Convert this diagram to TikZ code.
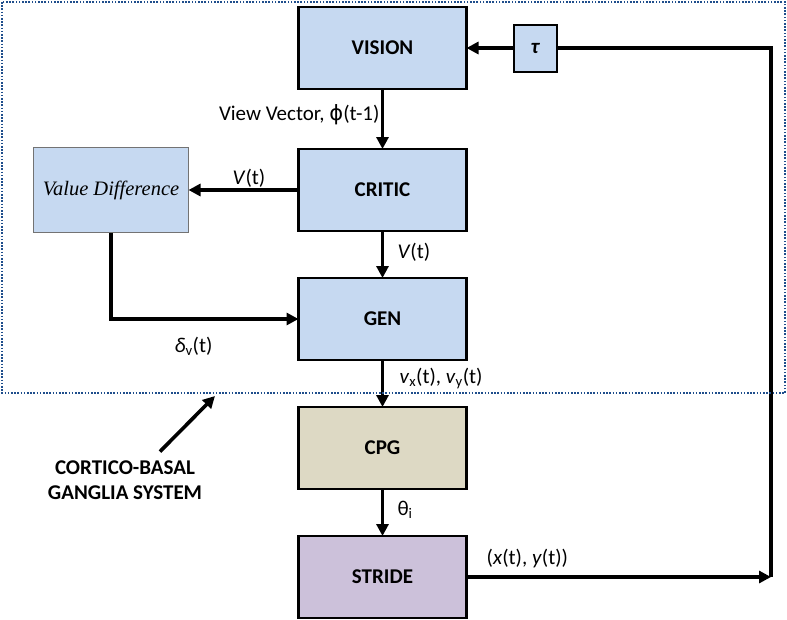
\documentclass[tikz,border=0pt]{standalone}
\usepackage{fontspec}
\setmainfont{Carlito}
\newfontfamily\valuefont{Liberation Serif}
\newfontfamily\symfont{DejaVu Sans}
\usetikzlibrary{positioning, arrows.meta}

\definecolor{cortexblue}{HTML}{C6D9F1}
\definecolor{cpgtan}{HTML}{DDD9C4}
\definecolor{stridelilac}{HTML}{CCC1DA}
\definecolor{framenavy}{HTML}{1F4E8C}

\begin{document}
\begin{tikzpicture}[
    x=1pt, y=-1pt,
    node distance=47pt and 110pt,
    every node/.style={outer sep=0pt, font=\fontsize{21}{25}\selectfont},
    block/.style={draw=black, line width=2.6pt, minimum width=168pt, minimum height=82pt, align=center, font=\fontsize{21}{25}\selectfont\bfseries},
    cortex/.style={block, fill=cortexblue},
    cpgbox/.style={block, fill=cpgtan},
    stridebox/.style={block, fill=stridelilac},
    valuebox/.style={fill=cortexblue, draw=black!55, line width=1.3pt, minimum width=155pt, minimum height=85pt, font=\fontsize{20.5}{24}\selectfont\valuefont\itshape},
    delaybox/.style={fill=cortexblue, draw=black, line width=2pt, minimum width=43pt, minimum height=47pt, font=\fontsize{21}{25}\selectfont\bfseries\itshape},
    arrow/.style={-{Triangle[length=12pt, width=12pt]}, line width=3.6pt},
    plainline/.style={line width=3.6pt},
    edgelabel/.style={font=\fontsize{21}{25}\selectfont, inner sep=3pt},
    groupframe/.style={draw=framenavy, line width=2.6pt, dash pattern=on 1.6pt off 1.6pt},
    note/.style={font=\fontsize{21}{25}\selectfont\bfseries, align=center, inner sep=1pt}
]
\useasboundingbox (0,0) rectangle (787,619);

% Main column
\node[cortex] (vision) at (382.5,48) {VISION};
\node[cortex, below=60pt of vision] (critic) {CRITIC};
\node[cortex, below=of critic] (gen) {GEN};
\node[cpgbox, below=of gen] (cpg) {CPG};
\node[stridebox, below=of cpg] (stride) {STRIDE};

% Side boxes
\node[valuebox, left=of critic] (valdiff) {Value Difference};
\node[delaybox, right=47pt of vision] (tau) {τ};

% Feedback corner points
\coordinate (turn) at (771,48);
\coordinate (back) at (turn |- stride);

% Forward path
\draw[arrow] (vision) -- node[edgelabel, left, pos=0.43] {View Vector, {\symfont ϕ}(t-1)} (critic);
\draw[arrow] (critic) -- node[edgelabel, right=12pt, pos=0.45] {\textit{V}(t)} (gen);
\draw[arrow] (gen) -- node[edgelabel, right=14pt, pos=0.4] {\textit{v}\textsubscript{x}(t), \textit{v}\textsubscript{y}(t)} (cpg);
\draw[arrow] (cpg) -- node[edgelabel, right=12pt, pos=0.45] {θ\textsubscript{i}} (stride);

% Value difference loop
\draw[arrow] (critic) -- node[edgelabel, above, pos=0.45] {\textit{V}(t)} (valdiff);
\draw[arrow] (valdiff) |- node[edgelabel, below=15pt, pos=0.72] {\textit{δ}\textsubscript{v}(t)} (gen);

% Position feedback
\draw[arrow] (stride) -- node[edgelabel, above=6pt, pos=0.2] {(\textit{x}(t), \textit{y}(t))} (back);
\draw[plainline] (back) -- (turn) -- (tau);
\draw[arrow] (tau) -- (vision);

% Cortico-basal ganglia group
\draw[groupframe] (2,2) rectangle (785,393);
\node[note] (sysnote) at (125,480) {CORTICO-BASAL\\GANGLIA SYSTEM};
\coordinate (framehit) at (215,396);
\draw[arrow] ([xshift=35pt, yshift=8pt]sysnote.north) -- (framehit);

\end{tikzpicture}
\end{document}
